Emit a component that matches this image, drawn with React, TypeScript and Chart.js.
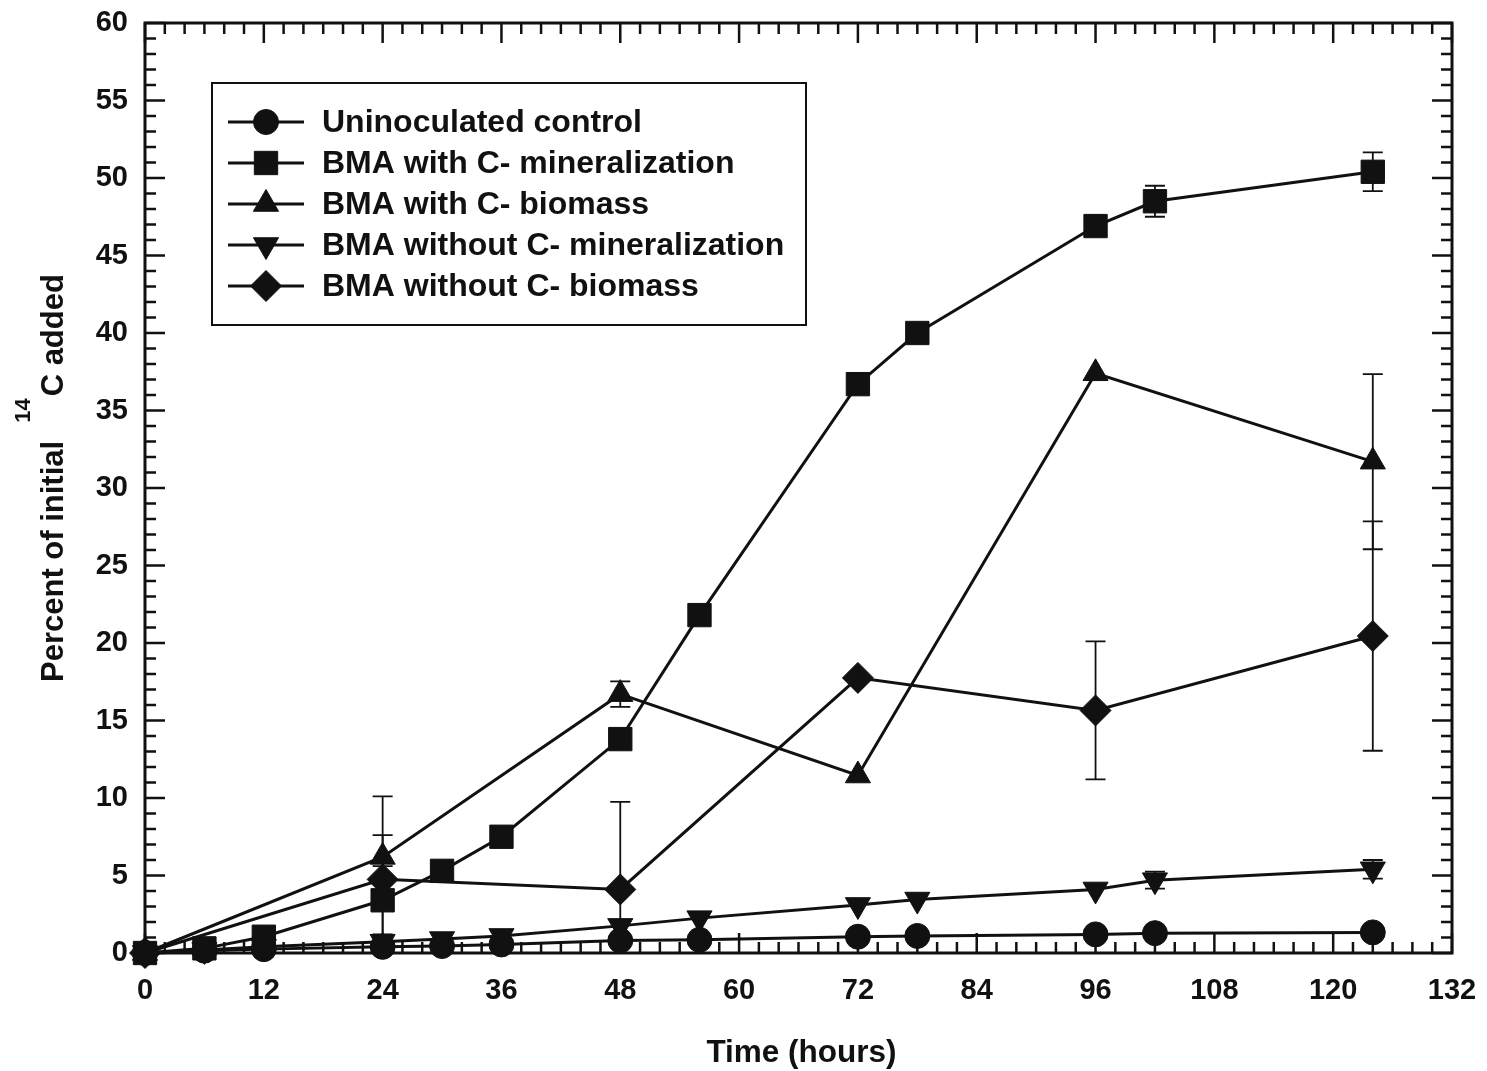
import React, { useEffect, useRef } from 'react';
import { Chart, registerables } from 'chart.js';
import { drawPoint } from 'chart.js/helpers';

Chart.register(...registerables);

const FONT = '"Liberation Sans", Arial, Helvetica, sans-serif';
const INK = '#111111';

// Axis ranges and tick spacing
const xMax = 132;
const xTickStep = 12;
const xMinorStep = 2;
const yMax = 60;
const yTickStep = 5;
const yMinorStep = 1;

// Uninoculated control
const controlHours = [0, 6, 12, 24, 30, 36, 48, 56, 72, 78, 96, 102, 124];
const controlValues = [0, 0.15, 0.25, 0.4, 0.45, 0.55, 0.8, 0.85, 1.05, 1.1, 1.2, 1.28, 1.33];
const controlErrors = [0, 0, 0, 0, 0, 0, 0, 0, 0, 0, 0, 0, 0];

// BMA with C - mineralization
const withCMinHours = [0, 6, 12, 24, 30, 36, 48, 56, 72, 78, 96, 102, 124];
const withCMinValues = [0, 0.3, 1.05, 3.4, 5.3, 7.5, 13.8, 21.8, 36.7, 40.0, 46.9, 48.5, 50.4];
const withCMinErrors = [0, 0, 0, 2.2, 0, 0, 0, 0, 0, 0, 0, 1.0, 1.25];

// BMA with C - biomass
const withCBioHours = [0, 24, 48, 72, 96, 124];
const withCBioValues = [0, 6.2, 16.7, 11.45, 37.4, 31.7];
const withCBioErrors = [0, 1.4, 0.82, 0, 0, 5.65];

// BMA without C - mineralization
const withoutCMinHours = [0, 6, 12, 24, 30, 36, 48, 56, 72, 78, 96, 102, 124];
const withoutCMinValues = [0, 0.2, 0.4, 0.73, 0.9, 1.1, 1.75, 2.25, 3.1, 3.45, 4.1, 4.7, 5.4];
const withoutCMinErrors = [0, 0, 0, 0, 0, 0, 0, 0, 0, 0, 0, 0.55, 0.6];

// BMA without C - biomass
const withoutCBioHours = [0, 24, 48, 72, 96, 124];
const withoutCBioValues = [0, 4.75, 4.1, 17.75, 15.65, 20.45];
const withoutCBioErrors = [0, 5.35, 5.65, 0, 4.45, 7.4];

const seriesLabels = [
  'Uninoculated control',
  'BMA with C- mineralization',
  'BMA with C- biomass',
  'BMA without C- mineralization',
  'BMA without C- biomass',
];

const xTitle = 'Time (hours)';
const yTitleLead = 'Percent of initial';
const yTitleSup = '14';
const yTitleTail = 'C added';

const toPoints = (hours: number[], values: number[]) =>
  hours.map((h, i) => ({ x: h, y: values[i] }));

const seriesErrors = [controlErrors, withCMinErrors, withCBioErrors, withoutCMinErrors, withoutCBioErrors];

const markerStyles = [
  { pointStyle: 'circle', pointRadius: 12.5, pointRotation: 0 },
  { pointStyle: 'rect', pointRadius: 16.5, pointRotation: 0 },
  { pointStyle: 'triangle', pointRadius: 14.5, pointRotation: 0 },
  { pointStyle: 'triangle', pointRadius: 14.5, pointRotation: 180 },
  { pointStyle: 'rectRot', pointRadius: 15.5, pointRotation: 0 },
];

const MAJOR_TICK = 20;
const MINOR_TICK = 11;

// Boxed frame with inward ticks on all four sides
const frameTicks = {
  id: 'frameTicks',
  beforeDatasetsDraw(chart: any) {
    const { ctx, chartArea, scales } = chart;
    const { left, right, top, bottom } = chartArea;
    const x = scales.x;
    const y = scales.y;
    ctx.save();
    ctx.strokeStyle = INK;
    ctx.lineWidth = 2.5;
    ctx.beginPath();
    for (let v = 0; v <= xMax; v += xMinorStep) {
      const px = x.getPixelForValue(v);
      const len = v % xTickStep === 0 ? MAJOR_TICK : MINOR_TICK;
      ctx.moveTo(px, bottom);
      ctx.lineTo(px, bottom - len);
      ctx.moveTo(px, top);
      ctx.lineTo(px, top + len);
    }
    for (let v = 0; v <= yMax; v += yMinorStep) {
      const py = y.getPixelForValue(v);
      const len = v % yTickStep === 0 ? MAJOR_TICK : MINOR_TICK;
      ctx.moveTo(left, py);
      ctx.lineTo(left + len, py);
      ctx.moveTo(right, py);
      ctx.lineTo(right - len, py);
    }
    ctx.stroke();
    ctx.lineWidth = 3;
    ctx.strokeRect(left, top, right - left, bottom - top);
    ctx.restore();
  },
};

// Vertical error bars with caps
const errorBars = {
  id: 'errorBars',
  beforeDatasetsDraw(chart: any) {
    const { ctx, chartArea, scales } = chart;
    const x = scales.x;
    const y = scales.y;
    ctx.save();
    ctx.beginPath();
    ctx.rect(chartArea.left, chartArea.top, chartArea.right - chartArea.left, chartArea.bottom - chartArea.top);
    ctx.clip();
    ctx.strokeStyle = INK;
    ctx.lineWidth = 1.8;
    chart.data.datasets.forEach((ds: any, di: number) => {
      const errs = seriesErrors[di];
      ds.data.forEach((p: any, i: number) => {
        const e = errs[i];
        if (!e) return;
        const px = x.getPixelForValue(p.x);
        const hi = y.getPixelForValue(p.y + e);
        const lo = y.getPixelForValue(p.y - e);
        ctx.beginPath();
        ctx.moveTo(px, hi);
        ctx.lineTo(px, lo);
        ctx.moveTo(px - 10, hi);
        ctx.lineTo(px + 10, hi);
        ctx.moveTo(px - 10, lo);
        ctx.lineTo(px + 10, lo);
        ctx.stroke();
      });
    });
    ctx.restore();
  },
};

// Axis titles, with a superscript mass number on the y title
const axisTitles = {
  id: 'axisTitles',
  afterDraw(chart: any) {
    const { ctx, chartArea } = chart;
    ctx.save();
    ctx.fillStyle = INK;
    ctx.font = `bold 31.5px ${FONT}`;
    ctx.textAlign = 'center';
    ctx.textBaseline = 'alphabetic';
    ctx.fillText(xTitle, (chartArea.left + chartArea.right) / 2 + 3, 1062);

    ctx.font = `bold 31px ${FONT}`;
    ctx.translate(63, 682);
    ctx.rotate(-Math.PI / 2);
    ctx.textAlign = 'left';
    ctx.fillText(yTitleLead, 0, 0);
    let pos = ctx.measureText(yTitleLead).width + 18;
    ctx.font = `bold 22px ${FONT}`;
    ctx.fillText(yTitleSup, pos, -33);
    pos += ctx.measureText(yTitleSup).width + 2;
    ctx.font = `bold 31px ${FONT}`;
    ctx.fillText(yTitleTail, pos, 0);
    ctx.restore();
  },
};

// Boxed legend with line-and-marker samples
const boxLegend = {
  id: 'boxLegend',
  afterDraw(chart: any) {
    const { ctx } = chart;
    const bx = 212;
    const by = 83;
    const bw = 594;
    const bh = 242;
    ctx.save();
    ctx.fillStyle = '#ffffff';
    ctx.fillRect(bx, by, bw, bh);
    ctx.strokeStyle = INK;
    ctx.lineWidth = 2;
    ctx.strokeRect(bx, by, bw, bh);
    chart.data.datasets.forEach((ds: any, i: number) => {
      const cy = 122 + i * 41;
      ctx.strokeStyle = INK;
      ctx.lineWidth = 3;
      ctx.beginPath();
      ctx.moveTo(228, cy);
      ctx.lineTo(304, cy);
      ctx.stroke();
      ctx.fillStyle = INK;
      ctx.lineWidth = 1;
      drawPoint(ctx, {
        pointStyle: ds.pointStyle,
        radius: ds.pointRadius,
        rotation: ds.pointRotation,
        borderWidth: 1,
      } as any, 266, cy);
      ctx.font = `bold 32px ${FONT}`;
      ctx.textAlign = 'left';
      ctx.textBaseline = 'middle';
      ctx.fillText(ds.label, 322, cy + 1);
    });
    ctx.restore();
  },
};

const noLabelOverflow = (scale: any) => {
  scale.paddingLeft = 0;
  scale.paddingRight = 0;
  scale.paddingTop = 0;
  scale.paddingBottom = 0;
};

export default function App() {
  const canvasRef = useRef<HTMLCanvasElement | null>(null);

  useEffect(() => {
    const canvas = canvasRef.current;
    if (!canvas) return;

    const seriesPoints = [
      toPoints(controlHours, controlValues),
      toPoints(withCMinHours, withCMinValues),
      toPoints(withCBioHours, withCBioValues),
      toPoints(withoutCMinHours, withoutCMinValues),
      toPoints(withoutCBioHours, withoutCBioValues),
    ];

    const datasets = seriesPoints.map((pts, i) => ({
      label: seriesLabels[i],
      data: pts,
      showLine: true,
      borderColor: INK,
      backgroundColor: INK,
      borderWidth: 3,
      pointBackgroundColor: INK,
      pointBorderColor: INK,
      pointBorderWidth: 1,
      pointStyle: markerStyles[i].pointStyle,
      pointRadius: markerStyles[i].pointRadius,
      pointRotation: markerStyles[i].pointRotation,
      pointHoverRadius: markerStyles[i].pointRadius,
      tension: 0,
      clip: false as any,
    }));

    const tickFont = { family: FONT, size: 29, weight: 'bold' as const };

    const chart = new Chart(canvas, {
      type: 'scatter',
      data: { datasets: datasets as any },
      options: {
        animation: false,
        responsive: false,
        devicePixelRatio: 1,
        events: [],
        layout: { padding: { top: 23, right: 35, left: 0, bottom: 0 } },
        plugins: {
          legend: { display: false },
          tooltip: { enabled: false },
        },
        scales: {
          x: {
            type: 'linear',
            min: 0,
            max: xMax,
            grid: { display: false, drawTicks: false },
            border: { display: false },
            ticks: { stepSize: xTickStep, font: tickFont, color: INK, padding: 21, maxRotation: 0 },
            afterFit: (scale: any) => {
              scale.height = 118;
              noLabelOverflow(scale);
            },
          },
          y: {
            type: 'linear',
            min: 0,
            max: yMax,
            grid: { display: false, drawTicks: false },
            border: { display: false },
            ticks: { stepSize: yTickStep, font: tickFont, color: INK, padding: 17 },
            afterFit: (scale: any) => {
              scale.width = 145;
              noLabelOverflow(scale);
            },
          },
        },
      },
      plugins: [frameTicks, errorBars, axisTitles, boxLegend],
    });

    return () => chart.destroy();
  }, []);

  return (
    <div style={{ position: 'fixed', left: 0, top: 0, width: 1487, height: 1071, background: '#ffffff' }}>
      <canvas ref={canvasRef} width={1487} height={1071} />
    </div>
  );
}
